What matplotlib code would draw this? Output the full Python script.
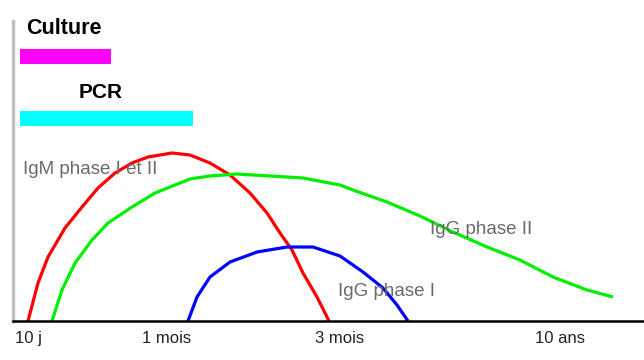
import matplotlib
matplotlib.use("Agg")
import matplotlib.pyplot as plt
from matplotlib import font_manager

names = {f.name for f in font_manager.fontManager.ttflist}
narrow = "Liberation Sans Narrow" if "Liberation Sans Narrow" in names else "Liberation Sans"

# curves (x = time position, y = level)
red_x = [15, 25, 35, 52, 69, 85, 102, 119, 135, 159, 177, 197, 217, 237, 254, 267, 279, 290, 304, 316]
red_y = [0, 38, 64, 93, 114, 133, 148, 158, 164, 168, 166, 158, 146, 128, 108, 88, 71, 48, 24, 0]

green_x = [39, 49, 62, 79, 95, 119, 142, 162, 177, 197, 224, 257, 290, 327, 340, 374, 407,
           440, 474, 507, 540, 574, 600]
green_y = [0, 31, 58, 81, 98, 114, 128, 136, 142, 145, 147, 145, 143, 136, 131, 119, 105,
           89, 74, 61, 44, 31, 24]

blue_x = [175, 184, 197, 217, 244, 274, 300, 327, 350, 370, 384, 395]
blue_y = [0, 24, 44, 59, 69, 74, 74, 65, 49, 33, 16, 0]

tick_pos = [15, 154, 327, 547]
tick_labels = ["10 j", "1 mois", "3 mois", "10 ans"]

# detection windows
bar_names = ["Culture", "PCR"]
bar_start = [7, 7]
bar_len = [91, 173]
bar_colors = ["#ff00ff", "#00ffff"]

fig = plt.figure(figsize=(6.44, 3.6), dpi=100)
ax = fig.add_axes([13 / 644, 39 / 360, 631 / 644, 300 / 360])
ax.set_xlim(0, 631)
ax.set_ylim(0, 300)

for xs, ys, c in [(red_x, red_y, "#ff0000"), (green_x, green_y, "#00ee00"),
                  (blue_x, blue_y, "#0000ff")]:
    ax.plot(xs, ys, color=c, lw=2.3, solid_capstyle="butt", solid_joinstyle="round")

ax.barh([264.5, 202.5], bar_len, left=bar_start, height=15, color=bar_colors)
ax.text(51, 292, bar_names[0], family=narrow, fontweight="bold", fontsize=15.5,
        ha="center", va="center")
ax.text(88, 229, bar_names[1], family=narrow, fontweight="bold", fontsize=15,
        ha="center", va="center")

grey = "#6a6a6a"
ax.text(10, 152, "IgM phase I et II", family=narrow, fontsize=13.5, color=grey, va="center")
ax.text(417, 92, "IgG phase II", family=narrow, fontsize=13.5, color=grey, va="center")
ax.text(325, 30, "IgG phase I", family=narrow, fontsize=13.5, color=grey, va="center")

ax.set_xticks(tick_pos)
ax.set_xticklabels(tick_labels, family=narrow, fontsize=12, color="#222222")
ax.tick_params(axis="x", length=0, pad=7)
ax.set_yticks([])

for s in ["top", "right"]:
    ax.spines[s].set_visible(False)
ax.spines["left"].set_color("#c0c0c0")
ax.spines["left"].set_linewidth(2.5)
ax.spines["bottom"].set_color("black")
ax.spines["bottom"].set_linewidth(1.8)

fig.savefig("out.png", dpi=100)
